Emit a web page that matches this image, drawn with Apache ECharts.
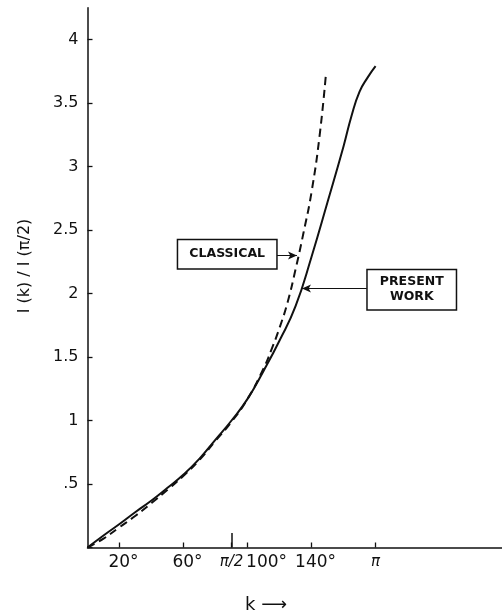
<!DOCTYPE html>
<html>
<head>
<meta charset="utf-8">
<script src="https://cdn.jsdelivr.net/npm/echarts@6/dist/echarts.min.js"></script>
<style>
html,body{margin:0;padding:0;background:#fff;}
#chart{width:502px;height:615px;}
</style>
</head>
<body>
<div id="chart"></div>
<script>
// k in degrees, I(k)/I(pi/2)
const presentDeg = [0,10,20,30,40,50,60,70,80,90,100,110,120,130,140,150,160,165,170,175,180];
const presentWork = [0,0.095,0.185,0.28,0.37,0.47,0.575,0.70,0.85,1.0,1.17,1.39,1.63,1.90,2.29,2.72,3.16,3.40,3.59,3.70,3.79];
const classicalDeg = [0,10,20,30,40,50,60,70,80,90,100,110,115,120,125,130,135,140,145,149];
const classical = [0,0.07,0.16,0.25,0.35,0.455,0.565,0.69,0.84,0.99,1.17,1.41,1.56,1.73,1.93,2.19,2.48,2.8,3.24,3.73];
const xTickValues = [20,60,90,100,140,180];
const xTickLabels = ['20°','60°','π/2','100°','140°','π'];
const xTickStyle = ['d','d','p','h','d','p'];

const ink = '#111';
const chart = echarts.init(document.getElementById('chart'));
const pairs = (xs, ys) => xs.map((x, i) => [x, ys[i]]);
const lblFont = {color: ink, fontFamily: 'DejaVu Sans', fontSize: 17};

chart.setOption({
  backgroundColor: '#fff',
  animation: false,
  grid: {left: 87.5, right: 0, top: 7.75, bottom: 67.5},
  xAxis: {
    type: 'value', min: 0, max: 259,
    splitLine: {show: false},
    axisLine: {lineStyle: {color: ink, width: 1.5}},
    axisTick: {inside: true, length: 5, lineStyle: {color: ink, width: 1.3}, customValues: xTickValues},
    axisLabel: {
      customValues: xTickValues, margin: 7, color: ink,
      fontFamily: 'DejaVu Sans', fontSize: 17,
      formatter: v => {
        const i = xTickValues.indexOf(v);
        return i < 0 ? '' : '{' + xTickStyle[i] + '|' + xTickLabels[i] + '}';
      },
      rich: {
        d: Object.assign({padding: [0, 0, 0, 8]}, lblFont),
        p: Object.assign({padding: [0, 0, 0, 0]}, lblFont, {fontSize: 15, fontStyle: 'italic'}),
        h: Object.assign({padding: [0, 0, 0, 38]}, lblFont)
      }
    }
  },
  yAxis: {
    type: 'value', min: 0, max: 4.25, interval: 0.5,
    splitLine: {show: false},
    axisLine: {lineStyle: {color: ink, width: 1.5}},
    axisTick: {inside: true, length: 5, lineStyle: {color: ink, width: 1.3}},
    axisLabel: {
      margin: 9, color: ink, fontFamily: 'DejaVu Sans', fontSize: 16,
      showMaxLabel: false,
      formatter: v => (v === 0 || v > 4) ? '' : (v === 0.5 ? '.5' : String(v))
    }
  },
  series: [
    {
      name: 'Present work', type: 'line', data: pairs(presentDeg, presentWork),
      smooth: 0.5, showSymbol: false, symbol: 'none',
      lineStyle: {color: ink, width: 2},
      z: 3,
      markLine: {
        silent: true, animation: false,
        lineStyle: {color: ink, width: 1, type: 'solid'},
        label: {show: false},
        data: [
          [{coord: [174.5, 2.04], symbol: 'none'}, {coord: [134.0, 2.04], symbol: 'arrow', symbolSize: [6, 9]}],
          [{coord: [90, 0], symbol: 'none'}, {coord: [90, 0.115], symbol: 'none', lineStyle: {width: 1.5}}]
        ]
      },
      markPoint: {
        silent: true, symbol: 'rect', symbolSize: 1, itemStyle: {color: 'rgba(0,0,0,0)'},
        label: {
          show: true, position: 'inside', formatter: 'PRESENT\nWORK',
          color: ink, fontFamily: 'DejaVu Sans', fontWeight: 'bold', fontSize: 12.5,
          lineHeight: 15, align: 'center',
          backgroundColor: '#fff', borderColor: ink, borderWidth: 1.5,
          padding: [5, 8, 4, 8], width: 72
        },
        data: [{coord: [202.6, 2.03]}]
      }
    },
    {
      name: 'Classical', type: 'line', data: pairs(classicalDeg, classical),
      smooth: 0.5, showSymbol: false, symbol: 'none',
      lineStyle: {color: ink, width: 2, type: [8, 5]},
      z: 2,
      markLine: {
        silent: true, animation: false,
        lineStyle: {color: ink, width: 1, type: 'solid'},
        label: {show: false},
        data: [
          [{coord: [118.3, 2.3], symbol: 'none'}, {coord: [130.9, 2.3], symbol: 'arrow', symbolSize: [6, 9]}]
        ]
      },
      markPoint: {
        silent: true, symbol: 'rect', symbolSize: 1, itemStyle: {color: 'rgba(0,0,0,0)'},
        label: {
          show: true, position: 'inside', formatter: 'CLASSICAL',
          color: ink, fontFamily: 'DejaVu Sans', fontWeight: 'bold', fontSize: 12.5,
          align: 'center',
          backgroundColor: '#fff', borderColor: ink, borderWidth: 1.5,
          padding: [8, 10, 7, 10], width: 78
        },
        data: [{coord: [87.3, 2.31]}]
      }
    }
  ],
  graphic: [
    {
      type: 'text', x: 25, y: 266, rotation: Math.PI / 2,
      style: {text: 'I (k) / I (π/2)', fill: ink, font: '16px "DejaVu Sans"', align: 'center', verticalAlign: 'middle'}
    },
    {
      type: 'text', x: 266, y: 605,
      style: {text: 'k ⟶', fill: ink, font: '18px "DejaVu Sans"', align: 'center', verticalAlign: 'middle'}
    }
  ]
});
</script>
</body>
</html>
